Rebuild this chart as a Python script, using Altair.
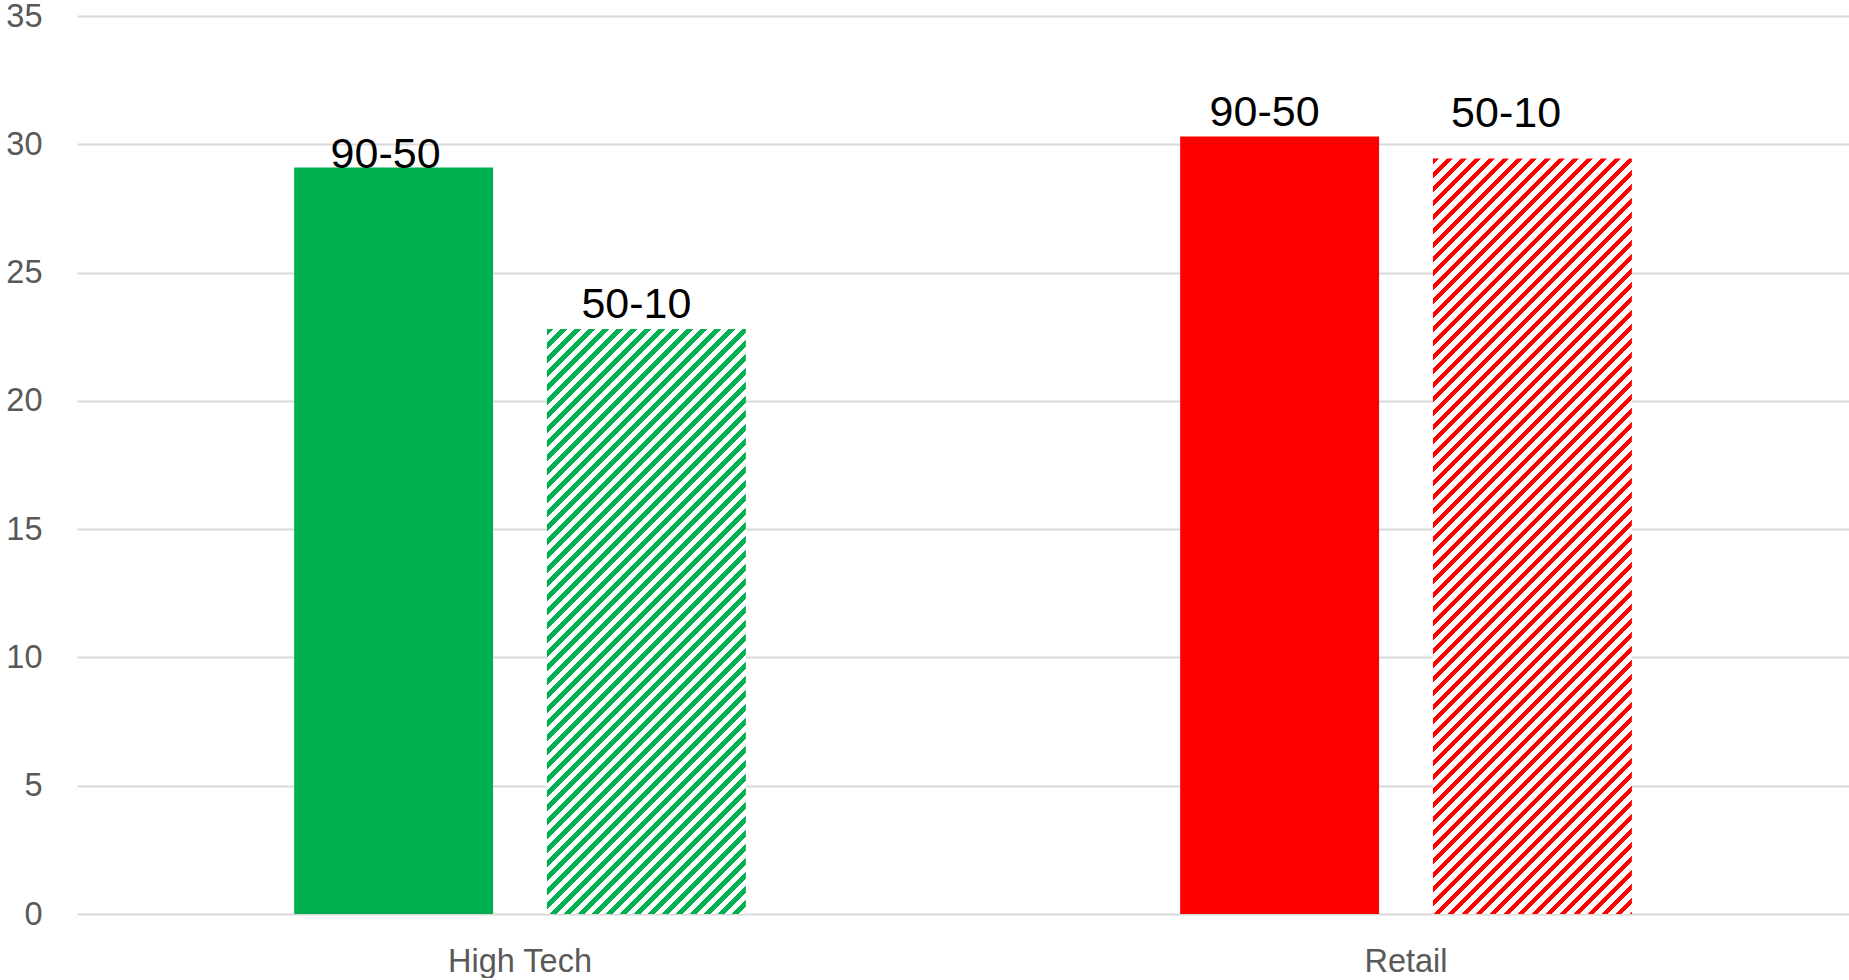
import altair as alt
import pandas as pd

# ---- data ----
categories = ["High Tech", "Retail"]
series = ["90-50", "50-10"]
values_90_50 = [29.1, 30.3]
values_50_10 = [22.8, 29.45]
bar_colors = ["#00B050", "#FF0000"]
y_ticks = [0, 5, 10, 15, 20, 25, 30, 35]

rows = []
for i, c in enumerate(categories):
    rows.append({"category": c, "series": series[0], "value": values_90_50[i]})
    rows.append({"category": c, "series": series[1], "value": values_50_10[i]})
df = pd.DataFrame(rows)

# ---- layout / style ----
FONT = "Liberation Sans"
W_PLOT, H_PLOT, Y_MAX = 1772, 898, 35
PAD_IN, PAD_OUT = 0.213, 0.859
band = W_PLOT / len(categories)
step = band / (len(series) - PAD_IN + 2 * PAD_OUT)
bar_w = step * (1 - PAD_IN)

# label offsets (dx, dy) relative to bar centre / bar top, per (category, series)
LABEL_OFF = {
    ("High Tech", "90-50"): (-8, 1),
    ("High Tech", "50-10"): (-10, -11.5),
    ("Retail", "90-50"): (-15, -10.3),
    ("Retail", "50-10"): (-26.3, -31.6),
}


def hatch(color, value, period=14.0, frac=0.45):
    """Diagonal '/' stripes as a linear gradient in bounding-box units."""
    H = value * H_PLOT / Y_MAX
    W = bar_w
    s = (W + H) / (W * W + H * H)
    n = (W + H) / period
    stops = []
    k = 0
    while k < n:
        a = min(k / n, 1.0)
        b = min((k + frac) / n, 1.0)
        c = min((k + 1) / n, 1.0)
        stops += [
            {"offset": a, "color": color},
            {"offset": b, "color": color},
            {"offset": b, "color": "#ffffff"},
            {"offset": c, "color": "#ffffff"},
        ]
        k += 1
    return {"gradient": "linear", "x1": 0, "y1": 0, "x2": s * W, "y2": s * H, "stops": stops}


x_enc = alt.X(
    "category:N",
    scale=alt.Scale(domain=categories, paddingInner=0, paddingOuter=0),
    axis=alt.Axis(
        title=None, labelAngle=0, ticks=False, tickSize=0, domain=False, grid=False,
        labelFont=FONT, labelFontSize=32.5, labelColor="#595959", labelPadding=31,
    ),
)
xoff_enc = alt.XOffset(
    "series:N", scale=alt.Scale(domain=series, paddingInner=PAD_IN, paddingOuter=PAD_OUT)
)
y_enc = alt.Y(
    "value:Q",
    scale=alt.Scale(domain=[0, Y_MAX], nice=False, zero=True),
    axis=alt.Axis(
        title=None, values=y_ticks, ticks=False, tickSize=0, domain=False,
        grid=True, gridColor="#d9d9d9", gridWidth=2,
        labelFont=FONT, labelFontSize=32.5, labelColor="#595959", labelPadding=35,
    ),
)

base = alt.Chart(df)

solid = base.transform_filter(alt.datum.series == series[0]).mark_bar().encode(
    x=x_enc,
    xOffset=xoff_enc,
    y=y_enc,
    color=alt.Color("category:N", scale=alt.Scale(domain=categories, range=bar_colors), legend=None),
)

layers = [solid]
for i, c in enumerate(categories):
    layers.append(
        base.transform_filter(f"datum.category == '{c}' && datum.series == '{series[1]}'")
        .mark_bar(fill=hatch(bar_colors[i], values_50_10[i]))
        .encode(x=x_enc, xOffset=xoff_enc, y=y_enc)
    )

for (c, s), (dx, dy) in LABEL_OFF.items():
    layers.append(
        base.transform_filter(f"datum.category == '{c}' && datum.series == '{s}'")
        .mark_text(
            dx=dx, dy=dy, align="center", baseline="alphabetic",
            font=FONT, fontSize=43, color="#000000",
        )
        .encode(x=x_enc, xOffset=xoff_enc, y=y_enc, text="series:N")
    )

chart = (
    alt.layer(*layers)
    .properties(
        width=W_PLOT,
        height=H_PLOT,
        autosize=alt.AutoSizeParams(type="none"),
        padding={"left": 77, "top": 16, "right": 0, "bottom": 64},
        background="#ffffff",
    )
    .configure_view(strokeWidth=0)
)

chart.save("out.html", embed_options={"renderer": "svg", "actions": False})
